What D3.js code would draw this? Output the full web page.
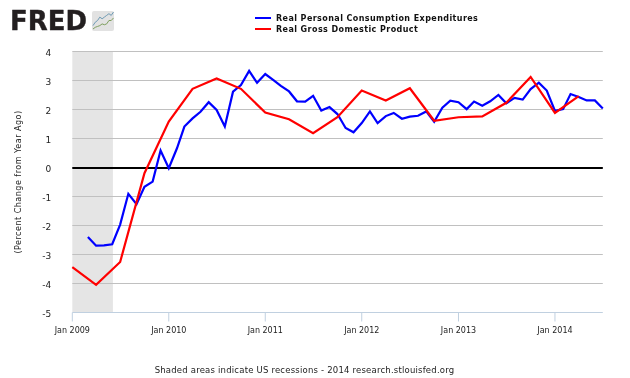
<!DOCTYPE html>
<html>
<head>
<meta charset="utf-8">
<script src="https://cdn.jsdelivr.net/npm/d3@7"></script>
<style>
body { margin: 0; background: #fff; }
svg { display: block; will-change: transform; }
text { font-family: "DejaVu Sans", sans-serif; fill: #222; }
</style>
</head>
<body>
<div id="my_dataviz"></div>
<script>
// monthly, Mar 2009 - Jul 2014
var pceStart = "2009-03-01";
var pceValues = [-2.38, -2.68, -2.67, -2.63, -1.95, -0.89, -1.25, -0.65, -0.47, 0.6,
  -0.01, 0.68, 1.43, 1.71, 1.94, 2.27, 2.0, 1.43, 2.63, 2.86, 3.35, 2.94,
  3.24, 3.03, 2.83, 2.64, 2.3, 2.29, 2.49, 1.98, 2.1, 1.86, 1.38, 1.23,
  1.55, 1.95, 1.55, 1.79, 1.9, 1.7, 1.77, 1.8, 1.95, 1.59, 2.08, 2.32,
  2.27, 2.03, 2.29, 2.15, 2.3, 2.52, 2.23, 2.42, 2.36, 2.72, 2.94, 2.67,
  1.97, 2.03, 2.55, 2.45, 2.33, 2.33, 2.05];
// quarterly, Q1 2009 - Q2 2014
var gdpStart = "2009-01-01";
var gdpValues = [-3.42, -4.03, -3.24, -0.18, 1.6, 2.73, 3.09, 2.73, 1.91, 1.68, 1.2,
  1.75, 2.67, 2.33, 2.75, 1.63, 1.75, 1.78, 2.25, 3.14, 1.9, 2.48];

var seriesNames = ["Real Personal Consumption Expenditures", "Real Gross Domestic Product"];
var seriesColors = ["#0000ff", "#ff0000"];
var yTicks = [4, 3, 2, 1, 0, -1, -2, -3, -4, -5];
var xTicks = ["2009-01-01", "2010-01-01", "2011-01-01", "2012-01-01", "2013-01-01", "2014-01-01"];
var xTickLabels = ["Jan 2009", "Jan 2010", "Jan 2011", "Jan 2012", "Jan 2013", "Jan 2014"];
var recession = ["2009-01-01", "2009-06-01"];
// little chart icon beside the logo
var iconBlue = [2, 4, 5, 7, 6, 7, 8, 9, 8, 10];
var iconGreen = [0, 1, 1.5, 2, 3, 2.5, 3, 5, 5, 6.5];

var parse = d3.utcParse("%Y-%m-%d");

var width = 630, height = 378;
var margin = {top: 52, right: 27.2, bottom: 65, left: 72.3};

var svg = d3.select("#my_dataviz")
    .append("svg")
    .attr("width", width)
    .attr("height", height);

var x = d3.scaleUtc()
    .domain([parse("2009-01-01"), parse("2014-07-01")])
    .range([margin.left, width - margin.right]);
var y = d3.scaleLinear()
    .domain([4, -5])
    .range([margin.top, height - margin.bottom]);

// recession band
svg.append("rect")
    .attr("x", x(parse(recession[0])))
    .attr("y", y(4) - 0.5)
    .attr("width", x(parse(recession[1])) - x(parse(recession[0])) + 0.7)
    .attr("height", y(-5) - y(4))
    .attr("fill", "#e5e5e5");

// y axis + gridlines
var yAxis = svg.append("g")
    .attr("transform", "translate(" + margin.left + ",0)")
    .call(d3.axisLeft(y)
        .offset(-0.5)
        .tickValues(yTicks)
        .tickSize(-(width - margin.left - margin.right))
        .tickPadding(21)
        .tickFormat(String));
yAxis.select(".domain").remove();
yAxis.selectAll("line").attr("stroke", "#c0c0c0");
yAxis.selectAll("line").filter(function(d){ return d === -5; }).remove();
yAxis.selectAll("text")
    .attr("font-size", 9)
    .attr("dy", "0.55em")
    .style("font-family", '"DejaVu Sans", sans-serif')
    .style("fill", "#222");

// x axis
var xAxis = svg.append("g")
    .attr("transform", "translate(0," + (y(-5) - 0.5) + ")")
    .call(d3.axisBottom(x)
        .offset(0)
        .tickValues(xTicks.map(parse))
        .tickSize(9)
        .tickPadding(6)
        .tickFormat(function(d, i){ return xTickLabels[i]; }));
xAxis.select(".domain").attr("stroke", "#c0d0e0").attr("d", "M" + x.range()[0] + ",0H" + x.range()[1]);
xAxis.selectAll("line").attr("stroke", "#c0d0e0");
xAxis.selectAll("text")
    .attr("font-size", 8)
    .style("font-family", '"DejaVu Sans", sans-serif')
    .style("fill", "#222");

// zero line
svg.append("line")
    .attr("x1", x.range()[0])
    .attr("x2", x.range()[1])
    .attr("y1", y(0))
    .attr("y2", y(0))
    .attr("stroke", "#000")
    .attr("stroke-width", 2);

var line = d3.line()
    .x(function(d){ return x(d.date); })
    .y(function(d){ return y(d.value); });

function monthly(start, values, step) {
  var d0 = parse(start);
  return values.map(function(v, i){
    return {date: d3.utcMonth.offset(d0, i * step), value: v};
  });
}

svg.append("path")
    .datum(monthly(pceStart, pceValues, 1))
    .attr("d", line)
    .attr("fill", "none")
    .attr("stroke", seriesColors[0])
    .attr("stroke-width", 2.2);
svg.append("path")
    .datum(monthly(gdpStart, gdpValues, 3))
    .attr("d", line)
    .attr("fill", "none")
    .attr("stroke", seriesColors[1])
    .attr("stroke-width", 2.2);

// legend
var legend = svg.selectAll(".legend")
    .data(seriesNames)
    .enter().append("g")
    .attr("class", "legend")
    .attr("transform", function(d, i){ return "translate(255," + (18 + i * 11) + ")"; });
legend.append("line")
    .attr("x1", 0).attr("x2", 16)
    .attr("stroke", function(d, i){ return seriesColors[i]; })
    .attr("stroke-width", 2);
legend.append("text")
    .attr("x", 21)
    .attr("y", 3)
    .attr("font-size", 8)
    .attr("font-weight", "bold")
    .attr("letter-spacing", 0.42)
    .style("fill", "#111")
    .text(function(d){ return d; });

// y title
svg.append("text")
    .attr("transform", "translate(21,182) rotate(-90)")
    .attr("text-anchor", "middle")
    .attr("font-size", 8)
    .attr("letter-spacing", 0.5)
    .text("(Percent Change from Year Ago)");

// footer
svg.append("text")
    .attr("x", 304.5)
    .attr("y", 373)
    .attr("text-anchor", "middle")
    .attr("font-size", 8.5)
    .attr("letter-spacing", 0.2)
    .text("Shaded areas indicate US recessions - 2014 research.stlouisfed.org");

// FRED logo
var logo = svg.append("g");
logo.append("text")
    .attr("x", 10)
    .attr("y", 30)
    .attr("font-size", 26)
    .attr("font-weight", "bold")
    .attr("textLength", 77)
    .attr("lengthAdjust", "spacingAndGlyphs")
    .style("fill", "#231f20")
    .style("stroke", "#231f20")
    .style("stroke-width", 0.4)
    .style("stroke-linejoin", "round")
    .text("FRED");
logo.append("rect")
    .attr("x", 92).attr("y", 11)
    .attr("width", 22).attr("height", 20)
    .attr("rx", 2)
    .attr("fill", "#e2e2e2");
var ix = d3.scaleLinear().domain([0, iconBlue.length - 1]).range([93, 113.5]);
var iy = d3.scaleLinear().domain([0, 10]).range([29, 12]);
var iconLine = d3.line().x(function(d, i){ return ix(i); }).y(function(d){ return iy(d); });
logo.append("path").attr("d", iconLine(iconBlue)).attr("fill", "none").attr("stroke", "#6f9bb5").attr("stroke-width", 1);
logo.append("path").attr("d", iconLine(iconGreen)).attr("fill", "none").attr("stroke", "#7f9f5f").attr("stroke-width", 1);
</script>
</body>
</html>
